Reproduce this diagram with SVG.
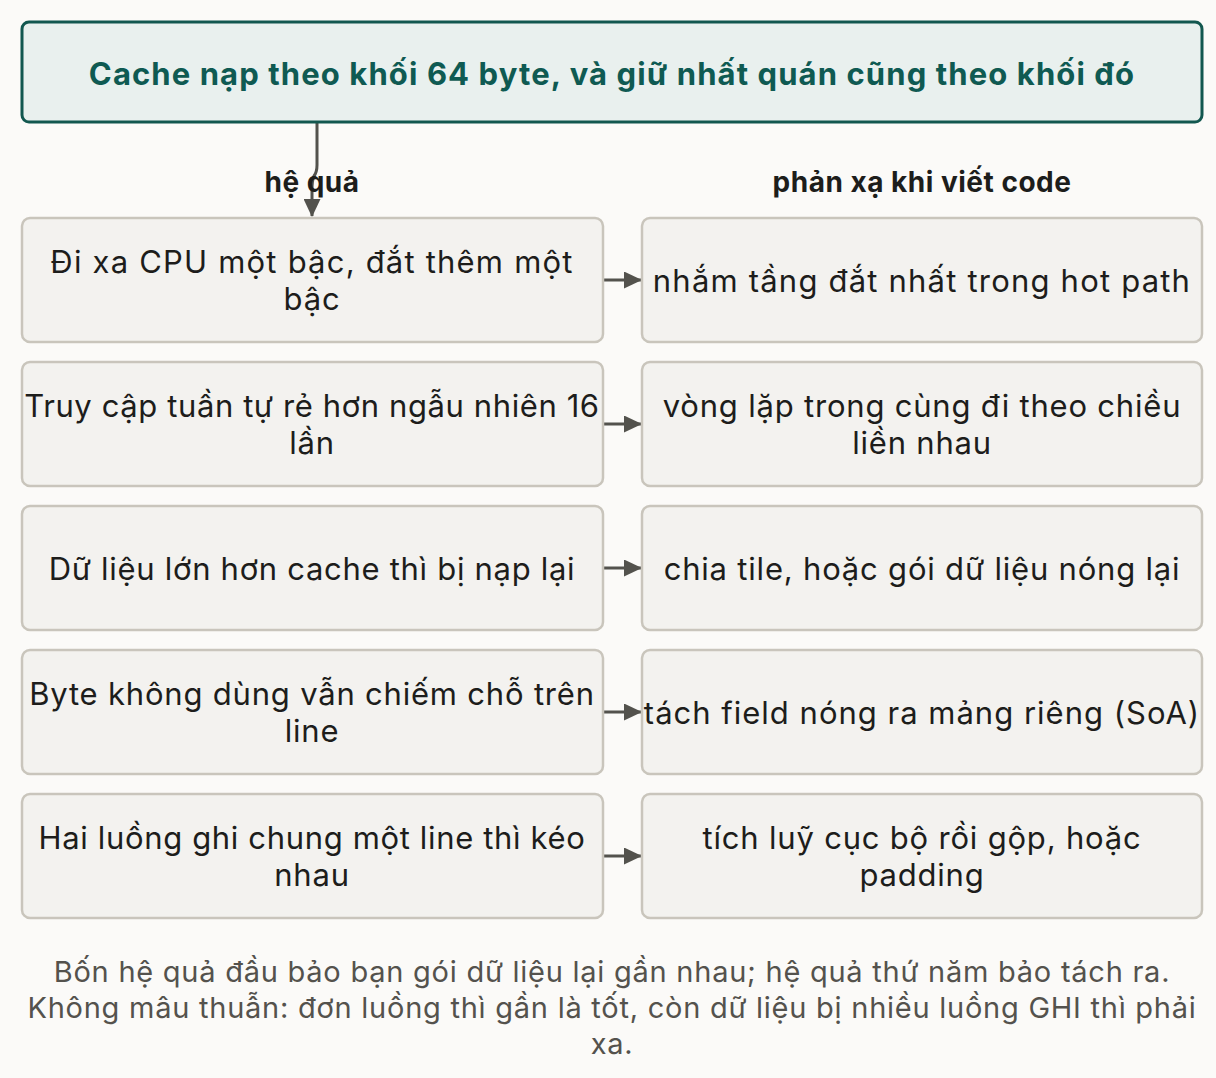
<svg xmlns="http://www.w3.org/2000/svg" width="1216" height="1078" viewBox="0 0 1216 1078">
<defs>
<marker id="ah" viewBox="0 0 18 17" refX="17" refY="8.5" markerWidth="18" markerHeight="17" markerUnits="userSpaceOnUse" orient="auto">
<path d="M0,0 L18,8.5 L0,17 Z" fill="#53524d"/>
</marker>
<style>
.bg{fill:#fbfaf8}
.box{fill:#f3f2ef;stroke:#c9c5bc;stroke-width:2.5}
.hdr{fill:#e9f0ee;stroke:#12574f;stroke-width:3}
.t{font-family:Inter,"Noto Sans",sans-serif;font-size:31px;letter-spacing:0.8px;fill:#1d1d1b;text-anchor:middle}
.ht{font-family:Inter,"Noto Sans",sans-serif;font-size:31px;letter-spacing:1.1px;font-weight:700;fill:#0f5a52;text-anchor:middle}
.lb{font-family:Inter,"Noto Sans",sans-serif;font-size:28px;letter-spacing:0.5px;font-weight:700;fill:#1d1d1b;text-anchor:middle}
.ft{font-family:Inter,"Noto Sans",sans-serif;font-size:29px;letter-spacing:0.75px;fill:#54524d;text-anchor:middle}
.c{fill:none;stroke:#53524d;stroke-width:3}
</style>
</defs>
<rect class="bg" width="1216" height="1078"/>
<g id="connectors">
<path class="c" d="M317,123 L317,165 Q317,172 314,176 Q312,180 312,190 L312,216" marker-end="url(#ah)"/>
<line class="c" x1="603" y1="280" x2="641" y2="280" marker-end="url(#ah)"/>
<line class="c" x1="603" y1="424" x2="641" y2="424" marker-end="url(#ah)"/>
<line class="c" x1="603" y1="568" x2="641" y2="568" marker-end="url(#ah)"/>
<line class="c" x1="603" y1="712" x2="641" y2="712" marker-end="url(#ah)"/>
<line class="c" x1="603" y1="856" x2="641" y2="856" marker-end="url(#ah)"/>
</g>
<g id="header">
<rect class="hdr" x="22" y="22" width="1180" height="100" rx="7"/>
<text class="ht" x="612" y="85">Cache nạp theo khối 64 byte, và giữ nhất quán cũng theo khối đó</text>
</g>
<g id="labels">
<text class="lb" x="312" y="192">hệ quả</text>
<text class="lb" x="922" y="192">phản xạ khi viết code</text>
</g>
<g id="n1"><rect class="box" x="22" y="218" width="581" height="124" rx="8"/>
<text class="t" x="312" y="273" style="letter-spacing:1.2px">Đi xa CPU một bậc, đắt thêm một</text><text class="t" x="312" y="310">bậc</text></g>
<g id="n2"><rect class="box" x="22" y="362" width="581" height="124" rx="8"/>
<text class="t" x="312" y="417" style="letter-spacing:0.6px">Truy cập tuần tự rẻ hơn ngẫu nhiên 16</text><text class="t" x="312" y="454">lần</text></g>
<g id="n3"><rect class="box" x="22" y="506" width="581" height="124" rx="8"/>
<text class="t" x="312" y="580" style="letter-spacing:0.7px">Dữ liệu lớn hơn cache thì bị nạp lại</text></g>
<g id="n4"><rect class="box" x="22" y="650" width="581" height="124" rx="8"/>
<text class="t" x="312" y="705">Byte không dùng vẫn chiếm chỗ trên</text><text class="t" x="312" y="742">line</text></g>
<g id="n5"><rect class="box" x="22" y="794" width="581" height="124" rx="8"/>
<text class="t" x="312" y="849" style="letter-spacing:0.65px">Hai luồng ghi chung một line thì kéo</text><text class="t" x="312" y="886">nhau</text></g>
<g id="r1"><rect class="box" x="642" y="218" width="560" height="124" rx="8"/>
<text class="t" x="922" y="292" style="letter-spacing:1.2px">nhắm tầng đắt nhất trong hot path</text></g>
<g id="r2"><rect class="box" x="642" y="362" width="560" height="124" rx="8"/>
<text class="t" x="922" y="417">vòng lặp trong cùng đi theo chiều</text><text class="t" x="922" y="454">liền nhau</text></g>
<g id="r3"><rect class="box" x="642" y="506" width="560" height="124" rx="8"/>
<text class="t" x="922" y="580">chia tile, hoặc gói dữ liệu nóng lại</text></g>
<g id="r4"><rect class="box" x="642" y="650" width="560" height="124" rx="8"/>
<text class="t" x="922" y="724" style="letter-spacing:1.0px">tách field nóng ra mảng riêng (SoA)</text></g>
<g id="r5"><rect class="box" x="642" y="794" width="560" height="124" rx="8"/>
<text class="t" x="922" y="849">tích luỹ cục bộ rồi gộp, hoặc</text><text class="t" x="922" y="886">padding</text></g>
<g id="footer">
<text class="ft" x="612" y="982">Bốn hệ quả đầu bảo bạn gói dữ liệu lại gần nhau; hệ quả thứ năm bảo tách ra.</text>
<text class="ft" x="612" y="1018">Không mâu thuẫn: đơn luồng thì gần là tốt, còn dữ liệu bị nhiều luồng GHI thì phải</text>
<text class="ft" x="612" y="1054">xa.</text>
</g>
</svg>
